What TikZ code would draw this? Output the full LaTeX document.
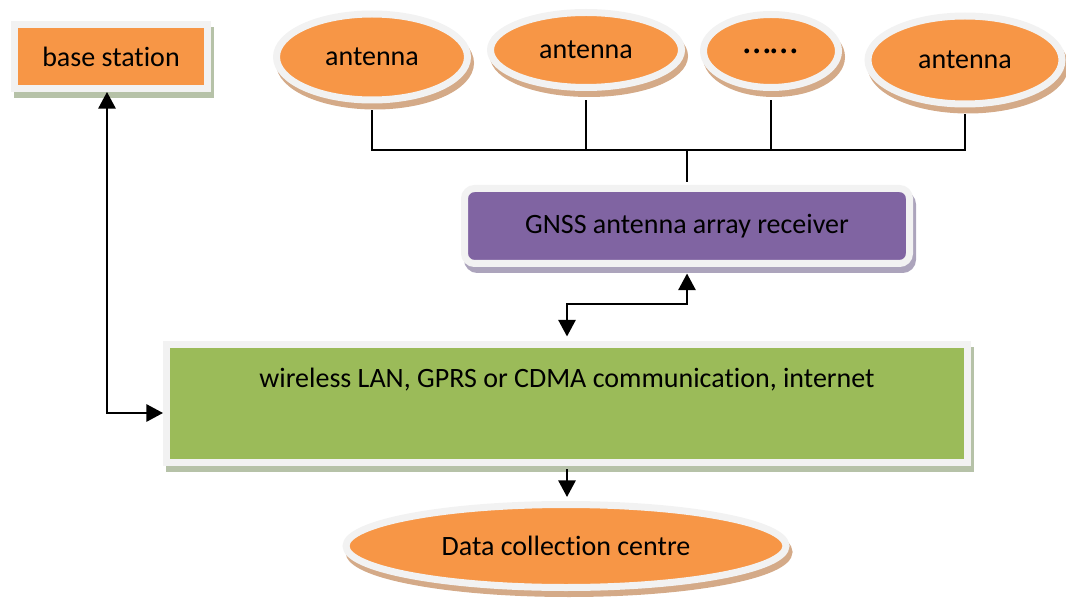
\documentclass[tikz,border=0pt]{standalone}
\usepackage{fontspec}
\setmainfont{Carlito}[Ligatures=NoCommon]
\usetikzlibrary{arrows.meta,shapes.geometric}

\definecolor{boxorange}{RGB}{247,150,70}
\definecolor{boxpurple}{RGB}{128,100,162}
\definecolor{boxgreen}{RGB}{155,187,89}
\definecolor{ringgray}{RGB}{242,242,242}
\definecolor{shadeorange}{RGB}{212,170,136}
\definecolor{shadegreen}{RGB}{182,194,168}
\definecolor{shadepurple}{RGB}{172,164,188}

\tikzset{every picture/.style={line width=0.75pt}}
\tikzset{
  txt/.style={font=\fontsize{21}{25}\selectfont},
  shadowbox/.style={txt, draw=ringgray, line width=5.25pt, inner sep=0pt,
    preaction={fill=#1, draw=#1, line width=5.25pt, transform canvas={xshift=2.25pt,yshift=-4.5pt}}},
  antennanode/.style={shadowbox=shadeorange, ellipse, fill=boxorange},
  link/.style={line width=1.5pt},
  oneway/.style={-{Triangle[length=12.5pt,width=13pt]}},
  twoway/.style={{Triangle[length=12.5pt,width=13pt]}-{Triangle[length=12.5pt,width=13pt]}}
}

\begin{document}
\begin{tikzpicture}[x=0.75pt,y=0.75pt,yscale=-1,xscale=1]
	\useasboundingbox (0,0) rectangle (1066,598);

	%Shape: base station
	\node [shadowbox=shadegreen, fill=boxorange, minimum width=144.75pt, minimum height=48pt] (base) at (111,56.5) {base station};
	%Shape: antennas
	\node [antennanode, minimum width=143.25pt, minimum height=64.5pt] (ant1) at (372,57) {antenna};
	\node [antennanode, minimum width=143.25pt, minimum height=56.25pt] (ant2) at (586,50) {antenna};
	\node [antennanode, minimum width=101.25pt, minimum height=54.75pt, font=\fontsize{30}{34}\selectfont] (ant3) at (771,51) {……};
	\node [antennanode, minimum width=145.5pt, minimum height=66pt] (ant4) at (965,60) {antenna};
	%Shape: receiver
	\node [shadowbox=shadepurple, fill=boxpurple, rounded corners=7.5pt, minimum width=333.75pt, minimum height=56.25pt] (rx) at (687,226) {GNSS antenna array receiver};
	%Shape: network
	\node [shadowbox=shadegreen, fill=boxgreen, minimum width=600.75pt, minimum height=88.5pt] (net) at (567,403.5) {};
	\node [txt] (netlabel) at (567,380) {wireless LAN, GPRS or CDMA communication, internet};
	%Shape: data collection centre
	\node [shadowbox=shadeorange, ellipse, fill=boxorange, minimum width=330pt, minimum height=62.25pt] (dc) at (566,546) {Data collection centre};

	%Connectors
	\coordinate (bus) at (687,150);
	\coordinate (mid) at (627,304);
	\coordinate (corner) at (107,413);
	\draw [link, shorten <=5pt, shorten >=5pt] (ant1.south) |- (bus) -| (ant4.south);
	\draw [link, shorten <=7pt] (ant2.south) -- (ant2.south |- bus);
	\draw [link, shorten <=7pt] (ant3.south) -- (ant3.south |- bus);
	\draw [link, shorten >=2.5pt] (bus) -- (rx.north);
	\draw [link, twoway, shorten <=4.9pt, shorten >=3.4pt] (rx.south) |- (mid) -| (net.north);
	\draw [link, twoway] (base.south -| corner) -- (corner) -- (corner -| net.west);
	\draw [link, oneway, shorten <=2.6pt, shorten >=3pt] (net.south) -- (net.south |- dc.north);

\end{tikzpicture}
\end{document}
